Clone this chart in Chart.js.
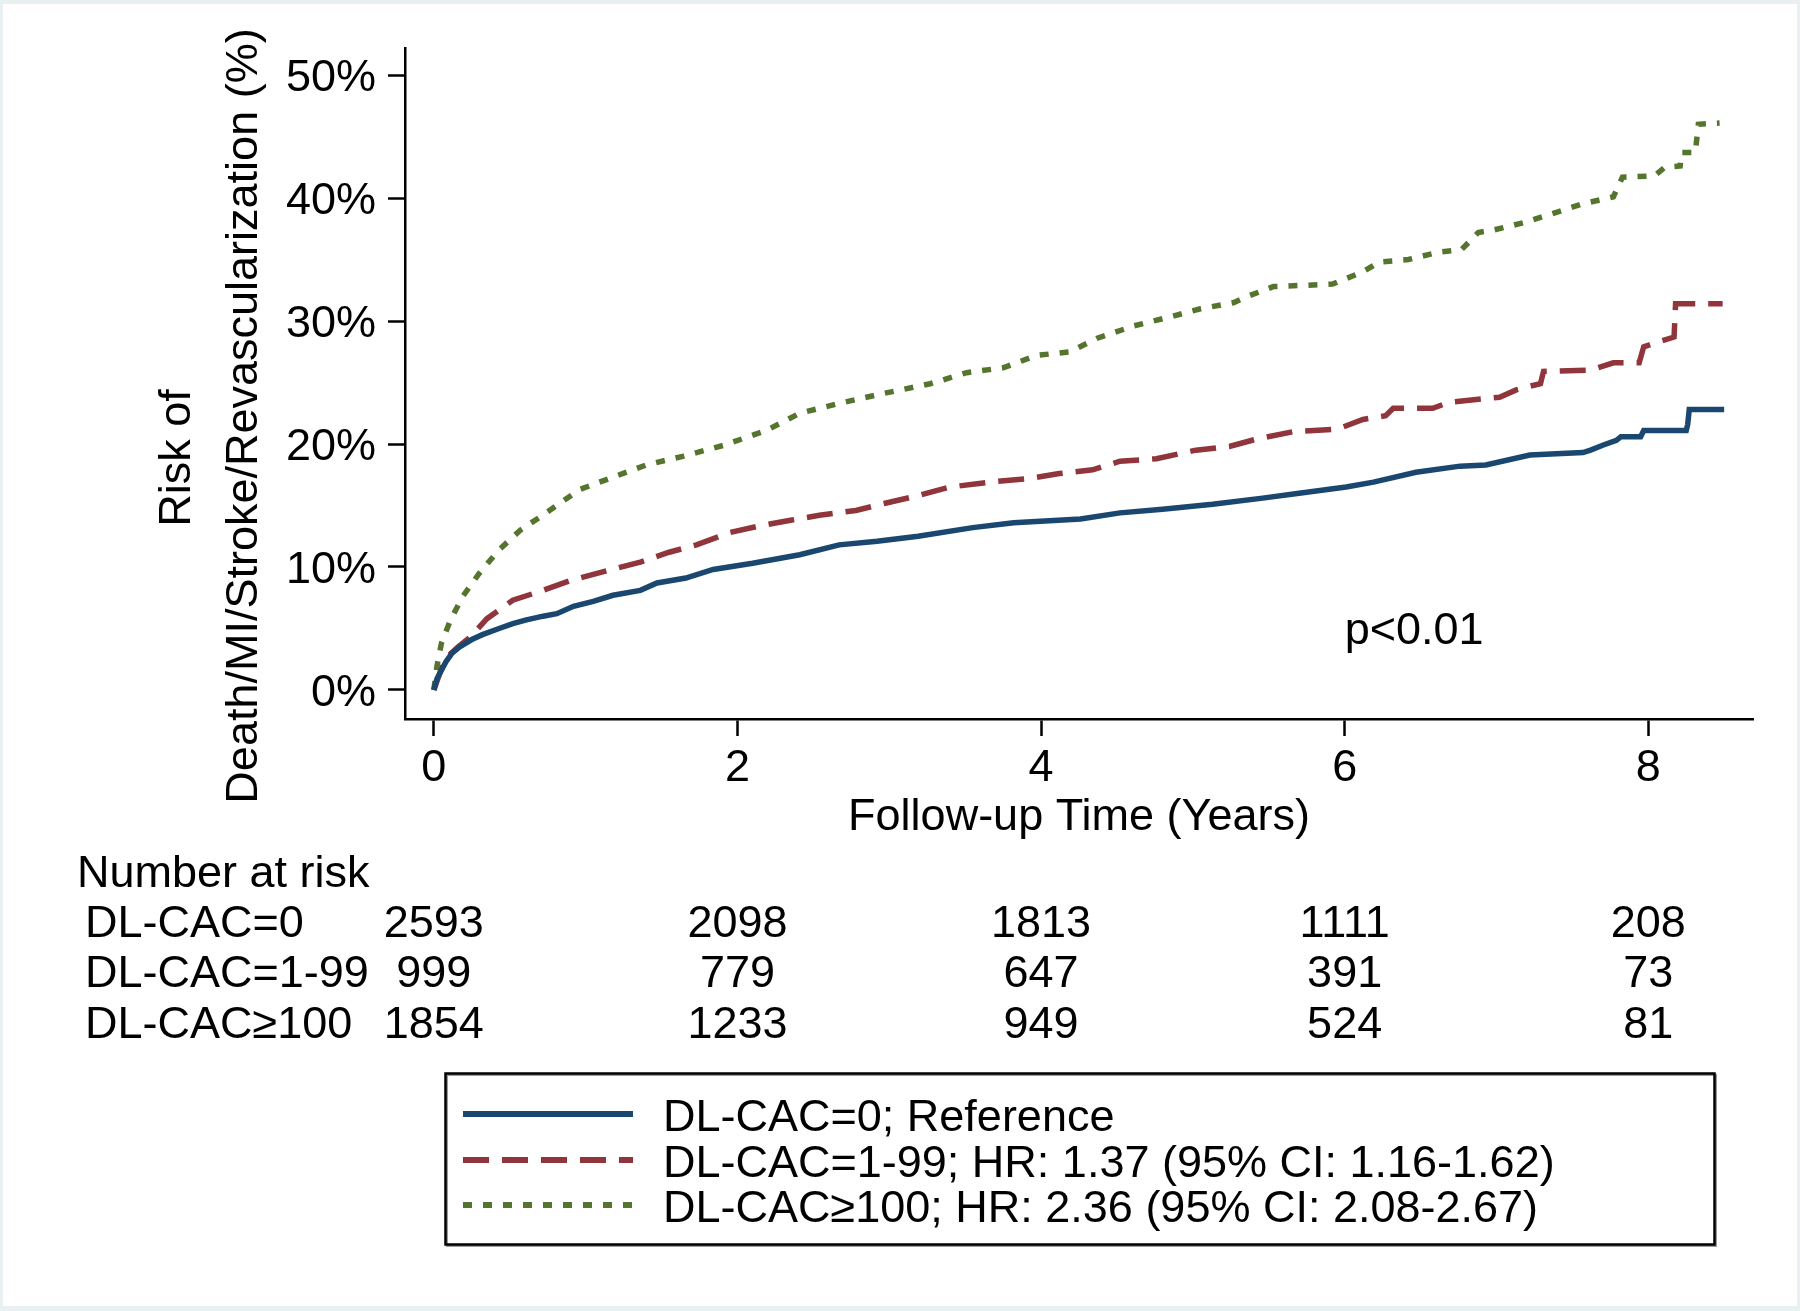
<!DOCTYPE html>
<html>
<head>
<meta charset="utf-8">
<title>Cumulative risk by DL-CAC group</title>
<script src="https://cdn.jsdelivr.net/npm/chart.js@4.4.1/dist/chart.umd.min.js"></script>
<style>
  html, body { margin: 0; padding: 0; background: #e8f0f2; }
  #wrap { position: absolute; left: 0; top: 0; width: 1800px; height: 1311px; }
</style>
</head>
<body>
<div id="wrap"><canvas id="kmChart" width="1800" height="1311"></canvas></div>
<script>
// groups and legend text
const groups = ['DL-CAC=0', 'DL-CAC=1-99', 'DL-CAC\u2265100'];
const hazardText = ['Reference', 'HR: 1.37 (95% CI: 1.16-1.62)', 'HR: 2.36 (95% CI: 2.08-2.67)'];

// number at risk table
const riskTimes = [0, 2, 4, 6, 8];
const atRiskCac0 = [2593, 2098, 1813, 1111, 208];
const atRiskCac1to99 = [999, 779, 647, 391, 73];
const atRiskCac100 = [1854, 1233, 949, 524, 81];

// axis ticks
const xTicks = [0, 2, 4, 6, 8];
const yTicks = [0, 10, 20, 30, 40, 50];

// curves: follow-up years and cumulative risk (%)
const yearsCac0 = [0, 0.02, 0.05, 0.08, 0.12, 0.17, 0.25, 0.32, 0.43, 0.52, 0.61, 0.72, 0.81, 0.92, 1.05,
  1.18, 1.36, 1.47, 1.66, 1.84, 2.10, 2.41, 2.67, 2.92, 3.19, 3.55, 3.82, 4.26, 4.52, 4.80, 5.13, 5.46,
  5.70, 6.01, 6.19, 6.47, 6.76, 6.93, 7.22, 7.57, 7.62, 7.70, 7.79, 7.82, 7.95, 7.97, 8.25, 8.26, 8.27, 8.50];
const riskCac0 = [0, 0.9, 1.6, 2.3, 3.0, 3.5, 4.1, 4.5, 5.0, 5.4, 5.7, 6.0, 6.2, 6.8, 7.2,
  7.7, 8.1, 8.7, 9.1, 9.8, 10.3, 11.0, 11.8, 12.1, 12.5, 13.2, 13.6, 13.9, 14.4, 14.7, 15.1, 15.6,
  16.0, 16.5, 16.9, 17.7, 18.2, 18.3, 19.1, 19.3, 19.5, 19.9, 20.3, 20.6, 20.6, 21.1, 21.1, 21.6, 22.8, 22.8];

const yearsCac1to99 = [0, 0.04, 0.08, 0.16, 0.24, 0.35, 0.52, 0.72, 0.90, 1.14, 1.36, 1.55, 1.73, 1.95, 2.13,
  2.35, 2.54, 2.78, 2.98, 3.19, 3.40, 3.66, 3.93, 4.12, 4.34, 4.52, 4.76, 5.02, 5.24, 5.42, 5.66, 5.95,
  6.12, 6.27, 6.32, 6.58, 6.69, 7.02, 7.13, 7.22, 7.29, 7.31, 7.62, 7.77, 7.94, 7.97, 8.09, 8.17, 8.18, 8.49];
const riskCac1to99 = [0, 1.4, 2.6, 3.5, 4.3, 5.8, 7.3, 8.1, 8.9, 9.7, 10.4, 11.2, 11.8, 12.8, 13.3,
  13.8, 14.2, 14.6, 15.2, 15.8, 16.5, 16.9, 17.2, 17.6, 17.9, 18.6, 18.8, 19.5, 19.8, 20.4, 21.0, 21.2,
  22.0, 22.3, 22.9, 22.9, 23.4, 23.8, 24.4, 24.7, 24.9, 25.9, 26.0, 26.6, 26.6, 27.9, 28.4, 28.7, 31.4, 31.4];

const yearsCac100 = [0, 0.02, 0.05, 0.11, 0.19, 0.30, 0.43, 0.57, 0.74, 0.96, 1.18, 1.40, 1.64, 1.91, 2.19,
  2.41, 2.67, 2.92, 3.19, 3.27, 3.51, 3.75, 3.97, 4.19, 4.37, 4.61, 4.87, 5.05, 5.27, 5.36, 5.53, 5.92,
  6.12, 6.23, 6.42, 6.62, 6.77, 6.88, 6.98, 7.18, 7.36, 7.56, 7.77, 7.83, 8.04, 8.11, 8.21, 8.22, 8.31, 8.33, 8.47];
const riskCac100 = [0, 1.9, 3.8, 5.7, 7.6, 9.5, 11.4, 13.0, 14.4, 16.3, 17.3, 18.3, 19.0, 19.9, 21.1,
  22.5, 23.3, 24.0, 24.7, 24.9, 25.8, 26.2, 27.2, 27.5, 28.6, 29.6, 30.4, 31.0, 31.5, 32.0, 32.8, 33.0,
  34.0, 34.8, 35.0, 35.6, 35.8, 37.2, 37.4, 38.0, 38.7, 39.5, 40.1, 41.7, 41.8, 42.5, 42.6, 43.7, 43.7, 46.0, 46.1];

const pValueText = 'p<0.01';
const pValueAt = { x: 6, y: 3.7 };

const FONT = "'Liberation Sans', Arial, Helvetica, sans-serif";
const font = size => size + 'px ' + FONT;

function toPoints(xs, ys) {
  return xs.map((x, i) => ({ x: x, y: ys[i] }));
}

const atRiskRows = [atRiskCac0, atRiskCac1to99, atRiskCac100];

const sheet = {
  id: 'sheet',
  beforeDraw(chart) {
    const c = chart.ctx;
    c.save();
    c.fillStyle = '#ffffff';
    c.fillRect(3, 4, 1794, 1302);
    c.restore();
  },
  afterDraw(chart) {
    const c = chart.ctx;
    const xs = chart.scales.x, ys = chart.scales.y, area = chart.chartArea;
    c.save();
    c.fillStyle = '#000';
    c.font = font(45);

    // y axis title, two lines
    c.textAlign = 'center';
    c.textBaseline = 'alphabetic';
    c.save();
    c.translate(190, 458);
    c.rotate(-Math.PI / 2);
    c.fillText('Risk of', 0, 0);
    c.restore();
    c.save();
    c.translate(257, 416);
    c.rotate(-Math.PI / 2);
    c.fillText('Death/MI/Stroke/Revascularization (%)', 0, 0);
    c.restore();

    // x axis title
    c.fillText('Follow-up Time (Years)', (area.left + area.right) / 2, 830);

    // p value
    c.textAlign = 'left';
    c.fillText(pValueText, xs.getPixelForValue(pValueAt.x), ys.getPixelForValue(pValueAt.y));

    // number at risk
    c.fillText('Number at risk', 77, 887);
    const rowBase = [937, 987, 1038];
    groups.forEach((g, i) => {
      c.textAlign = 'left';
      c.fillText(g, 85, rowBase[i]);
      c.textAlign = 'center';
      atRiskRows[i].forEach((n, j) => {
        c.fillText(String(n), xs.getPixelForValue(riskTimes[j]), rowBase[i]);
      });
    });

    // legend box
    c.strokeStyle = '#9a9a9a';
    c.lineWidth = 2;
    c.strokeRect(447, 1075, 1269, 171);
    c.strokeStyle = '#000';
    c.lineWidth = 2.5;
    c.strokeRect(445.5, 1073.5, 1269, 171);
    const rowY = [1114, 1160, 1205];
    chart.data.datasets.forEach((ds, i) => {
      c.save();
      c.strokeStyle = ds.borderColor;
      c.lineWidth = 6;
      c.lineCap = 'butt';
      c.setLineDash(ds.borderDash || []);
      c.beginPath();
      c.moveTo(463, rowY[i]);
      c.lineTo(633, rowY[i]);
      c.stroke();
      c.restore();
      c.textAlign = 'left';
      c.fillText(ds.label, 663, rowY[i] + 17);
    });
    c.restore();
  }
};

const series = [
  { x: yearsCac0, y: riskCac0, color: '#1a476f', dash: [] },
  { x: yearsCac1to99, y: riskCac1to99, color: '#90353b', dash: [26, 13] },
  { x: yearsCac100, y: riskCac100, color: '#55752f', dash: [9, 11] }
];

new Chart(document.getElementById('kmChart'), {
  type: 'line',
  data: {
    datasets: series.map((s, i) => ({
      label: groups[i] + '; ' + hazardText[i],
      data: toPoints(s.x, s.y),
      borderColor: s.color,
      backgroundColor: s.color,
      borderWidth: 5.5,
      borderDash: s.dash,
      borderCapStyle: 'butt',
      pointRadius: 0,
      tension: 0,
      fill: false
    }))
  },
  options: {
    responsive: false,
    animation: false,
    events: [],
    layout: { padding: { top: 48, right: 47, left: 0, bottom: 0 } },
    plugins: { legend: { display: false }, tooltip: { enabled: false } },
    scales: {
      x: {
        type: 'linear',
        min: -0.19,
        max: 8.69,
        afterBuildTicks: s => { s.ticks = xTicks.map(v => ({ value: v })); },
        afterFit: s => { s.height = 1311 - 719; },
        grid: { display: true, drawOnChartArea: false, drawTicks: true, tickLength: 17, tickWidth: 2.5, tickColor: '#000' },
        border: { display: true, color: '#000', width: 2.5 },
        ticks: { color: '#000', font: { family: FONT, size: 45 }, padding: 6, maxRotation: 0, autoSkip: false,
          callback: v => String(v) }
      },
      y: {
        min: -2.36,
        max: 52.2,
        afterBuildTicks: s => { s.ticks = yTicks.map(v => ({ value: v })); },
        afterFit: s => { s.width = 405; },
        grid: { display: true, drawOnChartArea: false, drawTicks: true, tickLength: 17, tickWidth: 2.5, tickColor: '#000' },
        border: { display: true, color: '#000', width: 2.5 },
        ticks: { color: '#000', font: { family: FONT, size: 45 }, padding: 12, labelOffset: 3.5, autoSkip: false,
          callback: v => v + '%' }
      }
    }
  },
  plugins: [sheet]
});
</script>
</body>
</html>
